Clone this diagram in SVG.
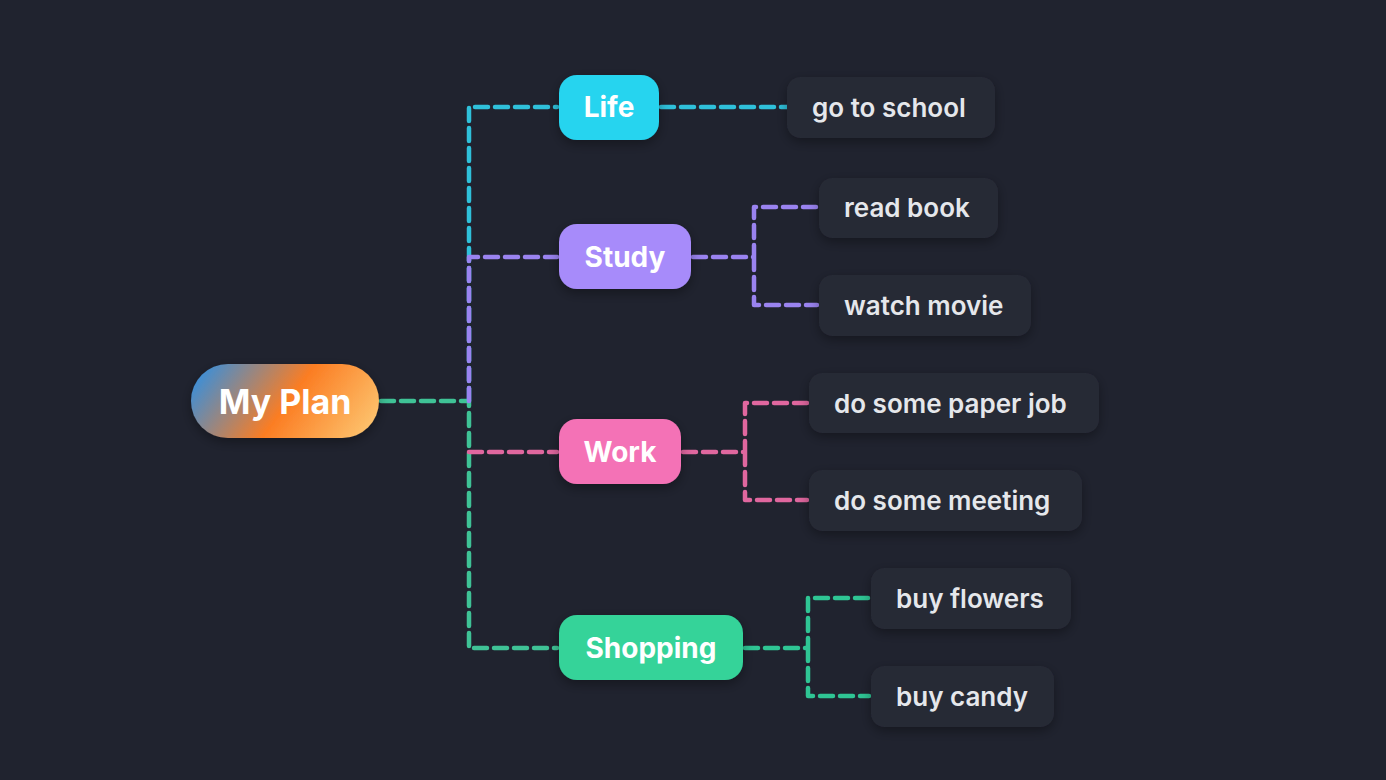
<svg xmlns="http://www.w3.org/2000/svg" width="1386" height="780" viewBox="0 0 1386 780">
<defs>
<linearGradient id="rg" gradientUnits="userSpaceOnUse" x1="215" y1="350" x2="360" y2="455">
<stop offset="0" stop-color="#3b8fd9"/><stop offset="0.5" stop-color="#fb7d23"/><stop offset="1" stop-color="#fdc873"/>
</linearGradient>
<filter id="sh" x="-20%" y="-30%" width="140%" height="170%"><feDropShadow dx="0" dy="4" stdDeviation="6" flood-color="#000" flood-opacity="0.35"/></filter>
</defs>
<style>
.c{fill:none;stroke-width:4.5;stroke-dasharray:13 7;stroke-linecap:round;stroke-linejoin:round}
.t{font-family:Inter,"Liberation Sans",sans-serif;font-weight:700;fill:#fff;text-anchor:middle;dominant-baseline:central}
.lf{fill:#272a36;filter:url(#sh)}
.lt{font-family:Inter,"Liberation Sans",sans-serif;font-weight:600;font-size:26px;fill:#e5e7eb;dominant-baseline:central}
</style>
<rect width="1386" height="780" fill="#20232f"/>
<g id="connectors">
<path class="c" stroke="#3fc296" d="M381,401 H469 V648 H557"/>
<path class="c" stroke="#2fc0da" d="M469,401 V107 H557"/>
<path class="c" stroke="#9a83f0" d="M469,401 V257 H557"/>
<path class="c" stroke="#e0679f" d="M469,452 H557"/>
<path class="c" stroke="#2fc0da" d="M661,107 H787"/>
<path class="c" stroke="#9a83f0" d="M693,257 H754 V207 H817 M754,257 V305 H817"/>
<path class="c" stroke="#e0679f" d="M683,452 H745 V403 H807 M745,452 V500 H807"/>
<path class="c" stroke="#2fc594" d="M745,648 H808 V598 H869 M808,648 V696 H869"/>
</g>
<g id="root"><rect x="191" y="364" width="188" height="74" rx="37" fill="url(#rg)" filter="url(#sh)"/><text class="t" x="285" y="401" font-size="34">My Plan</text></g>
<g id="life"><rect x="559" y="75" width="100" height="65" rx="18" fill="#26d4ef" filter="url(#sh)"/><text class="t" x="609" y="107" font-size="28">Life</text></g>
<g id="study"><rect x="559" y="224" width="132" height="65" rx="18" fill="#a78bfa" filter="url(#sh)"/><text class="t" x="625" y="257" font-size="28">Study</text></g>
<g id="work"><rect x="559" y="419" width="122" height="65" rx="18" fill="#f472b6" filter="url(#sh)"/><text class="t" x="620" y="452" font-size="28">Work</text></g>
<g id="shopping"><rect x="559" y="615" width="184" height="65" rx="18" fill="#34d399" filter="url(#sh)"/><text class="t" x="651" y="648" font-size="28">Shopping</text></g>
<g id="l1"><rect class="lf" x="787" y="77" width="208" height="61" rx="14"/><text class="lt" x="812" y="107">go to school</text></g>
<g id="l2"><rect class="lf" x="819" y="178" width="179" height="60" rx="14"/><text class="lt" x="844" y="207">read book</text></g>
<g id="l3"><rect class="lf" x="819" y="275" width="212" height="61" rx="14"/><text class="lt" x="844" y="305">watch movie</text></g>
<g id="l4"><rect class="lf" x="809" y="373" width="290" height="60" rx="14"/><text class="lt" x="834" y="403">do some paper job</text></g>
<g id="l5"><rect class="lf" x="809" y="470" width="273" height="61" rx="14"/><text class="lt" x="834" y="500">do some meeting</text></g>
<g id="l6"><rect class="lf" x="871" y="568" width="200" height="61" rx="14"/><text class="lt" x="896" y="598">buy flowers</text></g>
<g id="l7"><rect class="lf" x="871" y="666" width="183" height="61" rx="14"/><text class="lt" x="896" y="696">buy candy</text></g>
</svg>
